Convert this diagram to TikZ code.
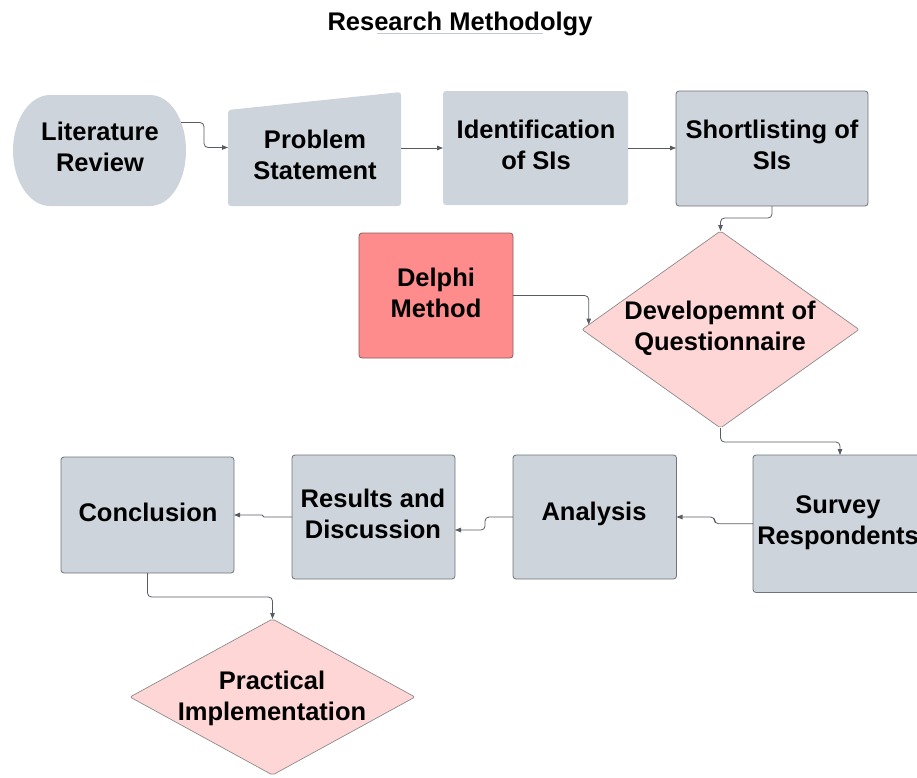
\documentclass[tikz,border=0pt]{standalone}
\usepackage{fontspec}
\setmainfont{Liberation Sans}
\usetikzlibrary{arrows.meta,shapes.geometric}
\definecolor{boxgray}{HTML}{CED4DB}
\definecolor{edgegray}{HTML}{6F737A}
\definecolor{delred}{HTML}{FF8C8C}
\definecolor{delborder}{HTML}{8A5A5A}
\definecolor{diapink}{HTML}{FFD6D6}
\definecolor{diaborder}{HTML}{8C8C8C}
\definecolor{linegray}{HTML}{575C63}
\definecolor{ulgray}{HTML}{C4C9D1}
\begin{document}
\begin{tikzpicture}[x=1pt,y=-1pt,
  txt/.style={font=\fontsize{25.5}{31}\selectfont\bfseries, align=center, inner sep=0pt, text=black},
  anchorbox/.style={rectangle, inner sep=0pt, outer sep=0pt, draw=none, fill=none},
  gbox/.style={rectangle, rounded corners=3pt, fill=boxgray, inner sep=0pt, outer sep=0pt},
  gboxb/.style={gbox, draw=edgegray, line width=0.8pt},
  redbox/.style={rectangle, rounded corners=3pt, fill=delred, draw=delborder, line width=0.8pt, inner sep=0pt, outer sep=0pt},
  dia/.style={diamond, fill=diapink, draw=diaborder, line width=0.7pt, inner sep=0pt, outer sep=0pt, rounded corners=2pt},
  conn/.style={draw=linegray, line width=0.8pt, rounded corners=4pt, -{Triangle[length=6pt,width=4.5pt]}}
]
\useasboundingbox (0,0) rectangle (917,777);
\clip (0,0) rectangle (917,777);

% title
\node[txt, anchor=base] (title) at (460,30) {Research Methodolgy};
\draw[ulgray, line width=1.5pt] (377,33.5) -- (543,33.5);

% Literature Review (terminator)
\node[anchorbox, minimum width=173pt, minimum height=111pt] (lit) at (99.5,150.5) {};
\fill[boxgray] (50,95) -- (150,95) .. controls (170.4,95) and (186,119.8) .. (186,150.5)
  .. controls (186,181.2) and (170.4,206) .. (150,206) -- (50,206)
  .. controls (29.6,206) and (13,181.2) .. (13,150.5)
  .. controls (13,119.8) and (29.6,95) .. (50,95) -- cycle;
\node[txt] (litT) at (100,146.5) {Literature\\Review};

% Problem Statement (manual input shape)
\node[anchorbox, minimum width=173pt, minimum height=114pt] (ps) at (314.5,149) {};
\fill[boxgray, rounded corners=3pt] (ps.south west) -- ([yshift=-18pt]ps.north west) -- (ps.north east) -- (ps.south east) -- cycle;
\node[txt] (psT) at (315,154.5) {Problem\\Statement};

% Identification of SIs
\node[gbox, minimum width=185pt, minimum height=114pt] (idn) at (535.5,148) {};
\node[txt] (idnT) at (536,144.5) {Identification\\of SIs};

% Shortlisting of SIs
\node[gboxb, minimum width=192pt, minimum height=115pt] (sl) at (772,148.5) {};
\node[txt] (slT) at (772,144.5) {Shortlisting of\\SIs};

% Delphi Method
\node[redbox, minimum width=154pt, minimum height=125pt] (del) at (436,295.5) {};
\node[txt] (delT) at (436,292.5) {Delphi\\Method};

% Development of Questionnaire
\node[dia, minimum width=277pt, minimum height=197pt] (dev) at (720.5,329.5) {};
\node[txt] (devT) at (720,328.5) {Developemnt of\\Questionnaire};

% Survey Respondents
\node[gboxb, minimum width=170pt, minimum height=137.5pt] (sur) at (838,523.75) {};
\node[txt] (surT) at (838,523) {Survey\\Respondents};

% Analysis
\node[gboxb, minimum width=163.5pt, minimum height=124pt] (ana) at (594.75,517) {};
\node[txt] (anaT) at (594,514) {Analysis};

% Results and Discussion
\node[gboxb, minimum width=163pt, minimum height=124pt] (res) at (373.5,517) {};
\node[txt] (resT) at (373,513.5) {Results and\\Discussion};

% Conclusion
\node[gboxb, minimum width=173pt, minimum height=116pt] (con) at (147.5,515) {};
\node[txt] (conT) at (148,512) {Conclusion};

% Practical Implementation
\node[dia, minimum width=285pt, minimum height=156pt] (pra) at (272.5,697) {};
\node[txt] (praT) at (272,698.5) {Practical\\Implementation};

% connectors
\draw[conn] ([xshift=-5pt,yshift=28pt]lit.east) -- (204,122.5) -- (204,147.5) -- (ps.west |- 0,147.5);
\draw[conn] (idn.west -| ps.east) -- (idn.west);
\draw[conn] (idn.east) -- (sl.west |- idn.east);
\draw[conn] (sl.south) -- (772,218) -- (720.5,218) -- (dev.north);
\draw[conn] (del.east) -- (588.7,295.5) -- ([xshift=6.7pt,yshift=4.8pt]dev.west);
\draw[conn] (dev.south) -- (720.5,442) -- (840,442) -- ([xshift=2pt]sur.north);
\draw[conn] (sur.west) -- (714.6,523.75) -- (714.6,517) -- (ana.east);
\draw[conn] (ana.west) -- (485,517) -- (485,530) -- ([yshift=-13pt]res.east);
\draw[conn, rounded corners=1pt] (res.west) -- (263,517) -- (263,515) -- (con.east);
\draw[conn] (con.south) -- (147.5,597) -- (272.5,597) -- (pra.north);
\end{tikzpicture}
\end{document}
